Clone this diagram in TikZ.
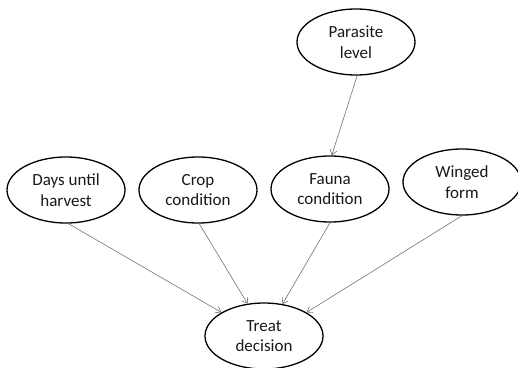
\documentclass[tikz,border=0pt]{standalone}
\usepackage{fontspec}
\setmainfont{Carlito}
\usetikzlibrary{shapes.geometric,arrows.meta}
\tikzset{
  var/.style={ellipse, draw=black, line width=1.3pt, fill=white,
    minimum width=118pt, minimum height=66pt, inner sep=0pt,
    align=center, font=\fontsize{17}{20.5}\selectfont, text=black!90},
  link/.style={draw=black!55, line width=0.6pt,
    -{Straight Barb[length=5pt,width=7pt,line width=0.6pt]}}
}
\begin{document}
\begin{tikzpicture}[x=1pt,y=-1pt]
\useasboundingbox (0,0) rectangle (518,367);
\node[var] (parasite) at (356,42) {Parasite\\level};
\node[var] (days) at (66,190) {Days until\\harvest};
\node[var] (crop) at (198,190) {Crop\\condition};
\node[var] (fauna) at (330,189) {Fauna\\condition};
\node[var] (winged) at (462,182) {Winged\\form};
\node[var] (treat) at (264,336) {Treat\\decision};
\draw[link] (parasite.-88) -- (fauna.87);
\draw[link] (days.-86) -- (treat.151);
\draw[link] (crop.-88) -- (treat.117);
\draw[link] (fauna.-90) -- (treat.60);
\draw[link] (winged.-90) -- (treat.29);
\end{tikzpicture}
\end{document}
